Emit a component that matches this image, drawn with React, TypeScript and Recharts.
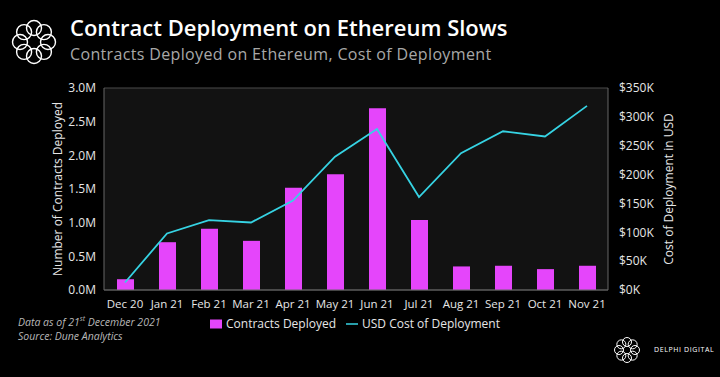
import {
  ComposedChart,
  Bar,
  Line,
  XAxis,
  YAxis,
  CartesianGrid,
  Legend,
} from 'recharts';

const MONTHS = ['Dec 20', 'Jan 21', 'Feb 21', 'Mar 21', 'Apr 21', 'May 21', 'Jun 21', 'Jul 21', 'Aug 21', 'Sep 21', 'Oct 21', 'Nov 21'];
const CONTRACTS = [160000, 710000, 910000, 730000, 1520000, 1720000, 2700000, 1040000, 350000, 360000, 310000, 360000];
const USD_COST = [13000, 98000, 121000, 117000, 155000, 231000, 279000, 161000, 237000, 275000, 266000, 319000];
const LEFT_TICKS = [0, 500000, 1000000, 1500000, 2000000, 2500000, 3000000];
const RIGHT_TICKS = [0, 50000, 100000, 150000, 200000, 250000, 300000, 350000];

const BAR_COLOR = '#e545fb';
const LINE_COLOR = '#36d3e3';
const FONT = '"Open Sans", "Noto Sans", sans-serif';

const data = MONTHS.map((m, i) => ({ month: m, contracts: CONTRACTS[i], usd: USD_COST[i] }));

function Ring({ cx, cy, r, small, stroke }: { cx: number; cy: number; r: number; small: number; stroke: number }) {
  const pts = Array.from({ length: 8 }, (_, i) => {
    const a = (i * Math.PI) / 4;
    return [cx + r * Math.cos(a), cy + r * Math.sin(a)];
  });
  return (
    <g fill="none" stroke="#fff" strokeWidth={stroke}>
      {pts.map(([x, y], i) => (
        <circle key={i} cx={x} cy={y} r={small} />
      ))}
    </g>
  );
}

export default function App() {
  const tick = { fill: '#e6e6e6', fontSize: 12, fontFamily: FONT };
  const xTick = { ...tick, fontSize: 11.5 };
  return (
    <div style={{ position: 'absolute', left: 0, top: 0, width: 720, height: 377, background: '#000', overflow: 'hidden', fontFamily: FONT }}>
      <svg width={720} height={377} style={{ position: 'absolute', left: 0, top: 0 }}>
        <Ring cx={34} cy={42} r={14} small={7.5} stroke={1.4} />
        <Ring cx={627} cy={350} r={8} small={4.5} stroke={1} />
      </svg>
      <div style={{ position: 'absolute', left: 70, top: 16, color: '#fff', fontSize: 22, lineHeight: '22px', fontWeight: 600, whiteSpace: 'nowrap' }}>
        Contract Deployment on Ethereum Slows
      </div>
      <div style={{ position: 'absolute', left: 70, top: 45, color: '#a8a8a8', fontSize: 16, lineHeight: '18px', letterSpacing: 0.35, whiteSpace: 'nowrap' }}>
        Contracts Deployed on Ethereum, Cost of Deployment
      </div>
      <div style={{ position: 'absolute', left: 18, top: 312, color: '#b8b8b8', fontSize: 10.5, fontStyle: 'italic', lineHeight: '14px' }}>
        <div>
          Data as of 21<sup style={{ fontSize: 7 }}>st</sup> December 2021
        </div>
        <div>Source: Dune Analytics</div>
      </div>
      <div style={{ position: 'absolute', left: 654, top: 345, color: '#fff', fontSize: 7, letterSpacing: 0.6, whiteSpace: 'nowrap' }}>
        DELPHI DIGITAL
      </div>
      <div
        style={{
          position: 'absolute',
          left: 57,
          top: 189,
          color: '#e6e6e6',
          fontSize: 12,
          whiteSpace: 'nowrap',
          transform: 'translate(-50%, -50%) rotate(-90deg)',
        }}
      >
        Number of Contracts Deployed
      </div>
      <div
        style={{
          position: 'absolute',
          left: 668,
          top: 189,
          color: '#e6e6e6',
          fontSize: 12,
          whiteSpace: 'nowrap',
          transform: 'translate(-50%, -50%) rotate(-90deg)',
        }}
      >
        Cost of Deployment in USD
      </div>
      <div style={{ position: 'absolute', left: 0, top: 0 }}>
        <ComposedChart width={720} height={377} data={data} margin={{ top: 88, right: 50, bottom: 23, left: 40 }}>
          <CartesianGrid vertical={false} stroke="#4a4a4a" fill="#121212" />
          <XAxis
            dataKey="month"
            tick={xTick}
            tickLine={false}
            tickMargin={4}
            axisLine={{ stroke: '#666' }}
            interval={0}
            height={42}
          />
          <YAxis
            yAxisId="left"
            width={64}
            domain={[0, 3000000]}
            ticks={LEFT_TICKS}
            tickFormatter={(v: number) => `${(v / 1e6).toFixed(1)}M`}
            tick={tick}
            tickLine={false}
            axisLine={{ stroke: '#666' }}
          />
          <YAxis
            yAxisId="right"
            orientation="right"
            width={62}
            domain={[0, 350000]}
            ticks={RIGHT_TICKS}
            tickFormatter={(v: number) => `$${v / 1000}K`}
            tick={tick}
            tickLine={false}
            tickMargin={5}
            axisLine={{ stroke: '#666' }}
          />
          <Legend
            verticalAlign="bottom"
            wrapperStyle={{ top: 311, left: 0, width: 720 }}
            iconSize={12}
            formatter={(value: string) => (
              <span style={{ color: '#e6e6e6', fontSize: 12, fontFamily: FONT }}>{value}</span>
            )}
          />
          <Bar
            yAxisId="left"
            dataKey="contracts"
            name="Contracts Deployed"
            fill={BAR_COLOR}
            barSize={17}
            legendType="rect"
            isAnimationActive={false}
          />
          <Line
            yAxisId="right"
            dataKey="usd"
            name="USD Cost of Deployment"
            stroke={LINE_COLOR}
            strokeWidth={1.8}
            dot={false}
            legendType="plainline"
            isAnimationActive={false}
          />
        </ComposedChart>
      </div>
    </div>
  );
}
